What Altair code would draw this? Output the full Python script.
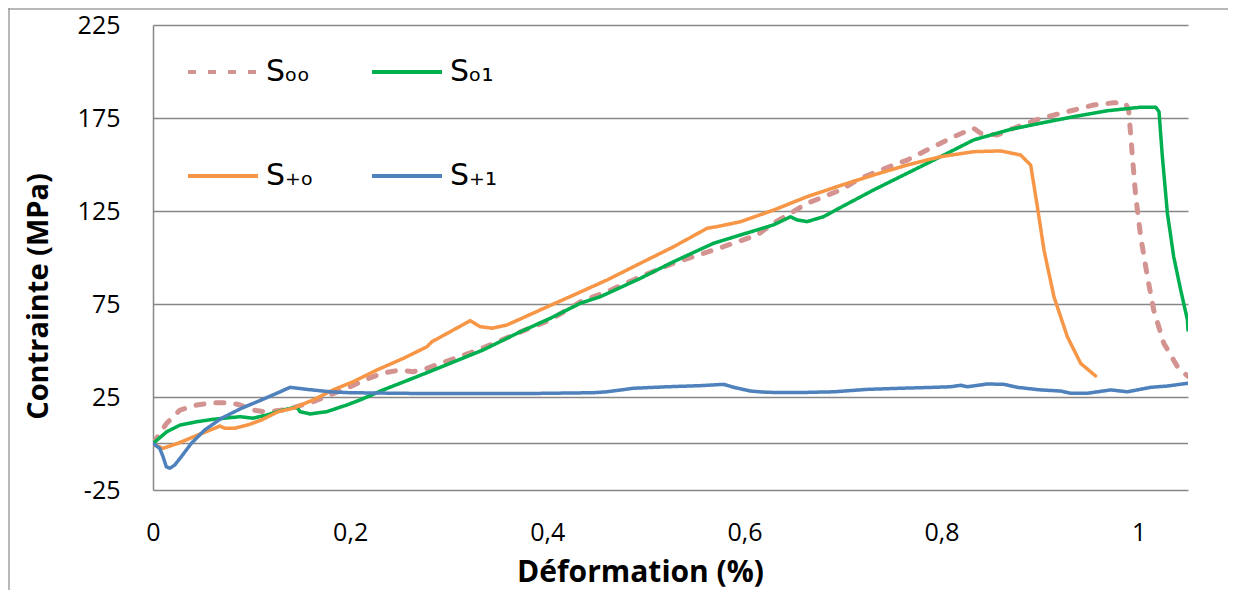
import altair as alt
import pandas as pd

series = ["Sₒₒ", "Sₒ₁", "S₊ₒ", "S₊₁"]
colors = ["#D39391", "#00B050", "#F79646", "#4F81BD"]
dashes = [[8, 12], [1, 0], [1, 0], [1, 0]]
widths = [5, 3.5, 3.5, 3.5]

s00_x = [0, 0.0139, 0.0274, 0.0444, 0.0609, 0.0782, 0.0883, 0.1015, 0.1154, 0.132, 0.1459, 0.1624,
         0.1797, 0.1966, 0.217, 0.2335, 0.2508, 0.264, 0.2779, 0.3015, 0.3218, 0.3421, 0.3692, 0.403,
         0.4335, 0.4606, 0.4944, 0.5279, 0.5482, 0.5787, 0.6129, 0.6294, 0.6467, 0.6636, 0.6975,
         0.7178, 0.7381, 0.7652, 0.7919, 0.8122, 0.8325, 0.8396, 0.8566, 0.8731, 0.9005, 0.9276,
         0.9543, 0.9746, 0.9868, 0.9898, 0.9936, 0.997, 1.002, 1.0088, 1.0152, 1.0254, 1.0393, 1.05]
s00_y = [0, 10.9, 18, 20.7, 21.9, 21.9, 20.7, 18, 16.9, 18, 19.8, 22.5, 26.1, 29.7, 34.7, 37.9,
         39.5, 38.6, 40.4, 44.9, 48.7, 53, 59.2, 66.4, 76.2, 81.6, 89.7, 96.9, 100.4, 105.8, 112.1,
         118.4, 123.8, 129.1, 136.3, 142.6, 147, 152.4, 159.6, 164.9, 169.5, 166.8, 165.9, 169.5,
         174.8, 178.4, 182, 183.2, 182.9, 179.3, 154.2, 132.7, 111.2, 89.7, 71.8, 53.9, 41.3, 36]

s01_x = [0, 0.0139, 0.0274, 0.0444, 0.0609, 0.0782, 0.0883, 0.1015, 0.1154, 0.132, 0.1459, 0.1492,
         0.1594, 0.1763, 0.1966, 0.2101, 0.2335, 0.2677, 0.3015, 0.335, 0.3692, 0.403, 0.4335,
         0.4538, 0.4944, 0.5279, 0.5685, 0.5959, 0.6294, 0.6467, 0.6535, 0.6636, 0.6802, 0.6975,
         0.731, 0.7652, 0.799, 0.8325, 0.8701, 0.9005, 0.934, 0.9682, 1.002, 1.0173, 1.0206, 1.024,
         1.0291, 1.0355, 1.0426, 1.0494, 1.05]
s01_y = [0, 6.3, 9.9, 11.7, 13, 13.9, 14.4, 13.6, 15.3, 18, 19.6, 17.1, 15.9, 17.1, 20.7, 23.4,
         28.8, 35.9, 43.1, 50.3, 59.2, 67.3, 75.4, 78.9, 88.8, 97.7, 107.6, 112.1, 117.5, 121.9,
         120.2, 119.3, 121.9, 126.9, 136.3, 145.3, 154.2, 163.2, 168.9, 172.2, 175.7, 178.9, 180.8,
         180.8, 178.4, 154.2, 123.8, 100.4, 82.5, 66.5, 61]

sp0_x = [0, 0.0102, 0.0254, 0.0457, 0.0626, 0.0677, 0.0728, 0.0829, 0.0964, 0.11, 0.1269, 0.1421,
         0.1624, 0.1827, 0.203, 0.2271, 0.2541, 0.2779, 0.2829, 0.3015, 0.3218, 0.332, 0.3442,
         0.3591, 0.3929, 0.4267, 0.4606, 0.4944, 0.5282, 0.5621, 0.5723, 0.5959, 0.6297, 0.6636,
         0.6975, 0.7313, 0.7652, 0.799, 0.8328, 0.8599, 0.8802, 0.8904, 0.8972, 0.9039, 0.914,
         0.9276, 0.9411, 0.9563]
sp0_y = [-0.5, -2.6, 0.1, 4.6, 8.2, 9.4, 8.2, 8.2, 10, 12.6, 17.1, 18.9, 23.4, 28.8, 33.2, 39.5,
         45.8, 52, 54.7, 60.1, 66, 62.8, 62, 63.7, 71.8, 79.8, 87.9, 96.9, 105.8, 115.7, 116.6,
         119.2, 125.5, 132.7, 138.7, 144.4, 149.7, 154.2, 156.9, 157.3, 155.1, 149.7, 127.3, 104,
         78.9, 57.4, 43.1, 36.3]

sp1_x = [0, 0.0068, 0.0102, 0.0135, 0.017, 0.022, 0.0287, 0.0389, 0.0525, 0.0693, 0.0896, 0.11,
         0.1269, 0.1391, 0.156, 0.1797, 0.2, 0.2677, 0.3185, 0.3861, 0.447, 0.4606, 0.4876, 0.5215,
         0.5553, 0.579, 0.5891, 0.6061, 0.623, 0.6569, 0.6907, 0.7246, 0.7584, 0.7922, 0.8091,
         0.8193, 0.8261, 0.8464, 0.8632, 0.8769, 0.9005, 0.9208, 0.931, 0.9479, 0.9716, 0.9885,
         1.0122, 1.0291, 1.05]
sp1_y = [0, -2.6, -7.1, -12.5, -13.3, -11.6, -7.1, 0.1, 7.3, 13.5, 18.9, 23.4, 27.3, 30.2, 29.1,
         27.8, 27.3, 26.9, 26.9, 26.9, 27.3, 27.8, 29.7, 30.5, 31.1, 31.8, 30.2, 28.2, 27.5, 27.4,
         27.8, 29.1, 29.7, 30.2, 30.5, 31.3, 30.5, 32, 31.8, 30.2, 28.8, 28.2, 27, 27, 28.8, 27.8,
         30.2, 30.9, 32.4]

y_ticks = [-25, 25, 75, 125, 175, 225]
x_ticks = [0, 0.2, 0.4, 0.6, 0.8, 1.0]

frames = []
for name, xs, ys in zip(series, [s00_x, s01_x, sp0_x, sp1_x], [s00_y, s01_y, sp0_y, sp1_y]):
    frames.append(pd.DataFrame({"x": xs, "y": ys, "serie": name}))
df = pd.concat(frames, ignore_index=True)

GRID = "#878787"
FONT = "Open Sans"

xscale = alt.Scale(domain=[0, 1.05], nice=False, zero=False)
yscale = alt.Scale(domain=[-25, 225], nice=False, zero=False)

xaxis = alt.Axis(values=x_ticks, grid=False, domain=False, ticks=False, labelFlush=False,
                 labelExpr="replace(format(datum.value, '.1~f'), '.', ',')",
                 labelFontSize=25, labelFont=FONT, labelColor="#000000", labelPadding=30,
                 title="Déformation (%)", titleFont=FONT, titleFontSize=30, titleFontWeight="bold",
                 titleColor="#000000", titleX=487, titleY=82, titleBaseline="middle", titleAnchor="start",
                 titleAlign="center")
yaxis = alt.Axis(values=y_ticks, grid=True, gridColor=GRID, gridWidth=1.5, domain=True,
                 domainColor=GRID, domainWidth=1.5, ticks=False, labelFlush=False,
                 labelExpr="'' + datum.value",
                 labelFontSize=25, labelFont=FONT, labelColor="#000000", labelPadding=33,
                 title="Contrainte (MPa)", titleFont=FONT, titleFontSize=29, titleFontWeight="bold",
                 titleColor="#000000", titleX=-115, titleY=271, titleAngle=-90, titleAlign="center",
                 titleBaseline="middle", titleAnchor="start")

color_scale = alt.Scale(domain=series, range=colors)
dash_scale = alt.Scale(domain=series, range=dashes)

legend = alt.Legend(title=None, orient="none", legendX=33, legendY=10, columns=2,
                    direction="horizontal",
                    symbolType="stroke", symbolSize=4900, symbolStrokeWidth=4,
                    labelFont="DejaVu Sans", labelFontSize=30, labelColor="#000000",
                    labelOffset=6, columnPadding=50, rowPadding=52, padding=0)

base = alt.Chart(df)

layers = []
# zero axis line
layers.append(alt.Chart(pd.DataFrame({"z": [0]})).mark_rule(color=GRID, strokeWidth=1.5)
              .encode(y=alt.Y("z:Q", scale=yscale, axis=yaxis)))
for name, w in zip(series, widths):
    layers.append(
        base.transform_filter(alt.datum.serie == name)
        .mark_line(strokeWidth=w, strokeCap="round", strokeJoin="round", clip=True)
        .encode(
            x=alt.X("x:Q", scale=xscale, axis=xaxis),
            y=alt.Y("y:Q", scale=yscale, axis=yaxis),
            color=alt.Color("serie:N", scale=color_scale, legend=legend),
            strokeDash=alt.StrokeDash("serie:N", scale=dash_scale, legend=legend),
            order=alt.Order("x:Q"),
        )
    )
# outer chart frame (left and top)
layers.append(alt.Chart(pd.DataFrame({"a": [0]})).mark_rule(color="#A0A0A0", strokeWidth=1.5)
              .encode(x=alt.value(-144), y=alt.value(-17), y2=alt.value(600)))
layers.append(alt.Chart(pd.DataFrame({"a": [0]})).mark_rule(color="#A0A0A0", strokeWidth=1.5)
              .encode(x=alt.value(-145), x2=alt.value(1080), y=alt.value(-16)))

chart = alt.layer(*layers).properties(
    width=1035, height=465,
    autosize=alt.AutoSizeParams(type="none"),
    padding={"left": 145, "top": 17, "right": 40, "bottom": 100},
    background="white",
).configure_view(stroke=None)

chart.save("out.html", embed_options={"renderer": "svg", "actions": False})
